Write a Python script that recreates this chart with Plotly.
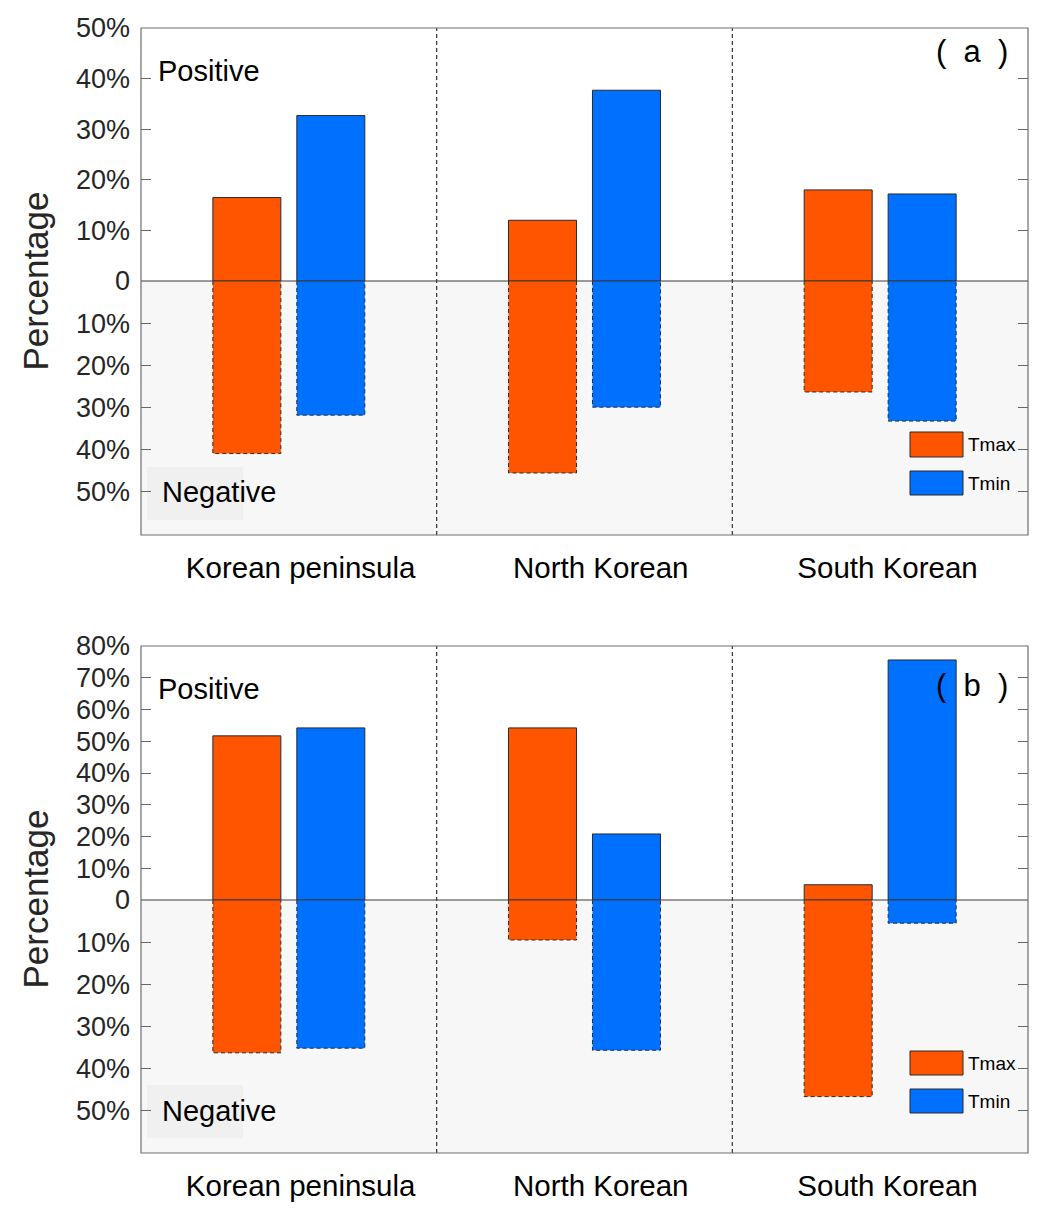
import plotly.graph_objects as go

# ---------------- data ----------------
categories = ["Korean peninsula", "North Korean", "South Korean"]
series_names = ["Tmax", "Tmin"]

# panel (a)
a_tmax_pos = [16.5, 12.0, 18.0]
a_tmin_pos = [32.7, 37.7, 17.2]
a_tmax_neg = [40.9, 45.5, 26.3]
a_tmin_neg = [31.8, 29.9, 33.2]

# panel (b)
b_tmax_pos = [51.7, 54.2, 4.8]
b_tmin_pos = [54.2, 20.8, 75.6]
b_tmax_neg = [36.3, 9.5, 46.7]
b_tmin_neg = [35.2, 35.7, 5.5]

a_pos_ticks = [0, 10, 20, 30, 40, 50]
b_pos_ticks = [0, 10, 20, 30, 40, 50, 60, 70, 80]
neg_ticks = [10, 20, 30, 40, 50]

# ---------------- style ----------------
C_MAX = "#FF5500"
C_MIN = "#0070FF"
EDGE = "#2b2b2b"
FONT = "Arial, Liberation Sans, sans-serif"
BAR_W = 0.23
OFFS = {"Tmax": -0.257, "Tmin": 0.027}
COLORS = {"Tmax": C_MAX, "Tmin": C_MIN}
LABEL_SHIFT = [0.04, 0.055, 0.025]   # category labels sit slightly right of group centres

# page body has an 8px margin on every side; size the figure so it fits the window exactly
PAGE = 8
W, H = 1057 - 2 * PAGE, 1226 - 2 * PAGE
L = 141 - PAGE
T = 28 - PAGE
R = PAGE + W - 1028
B = PAGE + H - 1153
plot_h = 1153 - 28
plot_w = 1028 - 141


def py(pix):
    return (1153 - pix) / plot_h


def px(pix):
    return (pix - 141) / plot_w


dom = {
    "y": [py(281), 1.0],
    "y2": [py(535), py(281)],
    "y3": [py(900), py(646)],
    "y4": [0.0, py(900)],
}

fig = go.Figure()
xidx = list(range(len(categories)))


def add_bars(xa, ya, name, vals, positive):
    fig.add_trace(go.Bar(
        x=xidx, y=vals, xaxis=xa, yaxis=ya, name=name,
        width=BAR_W, offset=OFFS[name],
        marker=dict(color=COLORS[name],
                    line=dict(color=EDGE, width=1 if positive else 0)),
        showlegend=False, hoverinfo="y+name",
    ))
    if not positive:
        # dashed outline for negative-part bars
        xs, ys = [], []
        for i, v in zip(xidx, vals):
            x0 = i + OFFS[name]
            x1 = x0 + BAR_W
            xs += [x0, x0, x1, x1, None]
            ys += [0, v, v, 0, None]
        fig.add_trace(go.Scatter(
            x=xs, y=ys, xaxis=xa, yaxis=ya, mode="lines",
            line=dict(color=EDGE, width=1, dash="4px,3px"),
            showlegend=False, hoverinfo="skip",
        ))


add_bars("x", "y", "Tmax", a_tmax_pos, True)
add_bars("x", "y", "Tmin", a_tmin_pos, True)
add_bars("x", "y2", "Tmax", a_tmax_neg, False)
add_bars("x", "y2", "Tmin", a_tmin_neg, False)
add_bars("x2", "y3", "Tmax", b_tmax_pos, True)
add_bars("x2", "y3", "Tmin", b_tmin_pos, True)
add_bars("x2", "y4", "Tmax", b_tmax_neg, False)
add_bars("x2", "y4", "Tmin", b_tmin_neg, False)

tickfont = dict(family=FONT, size=27, color="#262626")


def xaxis_cfg(anchor):
    return dict(domain=[0, 1], anchor=anchor, range=[-0.5, 2.5],
                tickvals=[i + s for i, s in zip(xidx, LABEL_SHIFT)],
                ticktext=categories, ticks="", automargin=False,
                showline=False, showgrid=False, zeroline=False,
                tickfont=dict(family=FONT, size=29.5, color="#000000"),
                ticklabelstandoff=12)


def yaxis_cfg(key, rng, vals, texts):
    return dict(domain=dom[key], anchor="x" if key in ("y", "y2") else "x2",
                range=rng, tickvals=vals, ticktext=texts, automargin=False,
                ticks="inside", ticklen=10, tickcolor="#666666", tickwidth=1,
                mirror="ticks", showline=False, showgrid=False, zeroline=False,
                tickfont=tickfont, ticklabelstandoff=10)


fig.update_layout(
    width=W, height=H,
    margin=dict(l=L, r=R, t=T, b=B, autoexpand=False),
    paper_bgcolor="white", plot_bgcolor="rgba(0,0,0,0)",
    barmode="overlay",
    xaxis=xaxis_cfg("y2"),
    xaxis2=xaxis_cfg("y4"),
    yaxis=yaxis_cfg("y", [0, 50], a_pos_ticks,
                    ["0" if v == 0 else f"{v}%" for v in a_pos_ticks]),
    yaxis2=yaxis_cfg("y2", [60.2, 0], neg_ticks, [f"{v}%" for v in neg_ticks]),
    yaxis3=yaxis_cfg("y3", [0, 80], b_pos_ticks,
                     ["0" if v == 0 else f"{v}%" for v in b_pos_ticks]),
    yaxis4=yaxis_cfg("y4", [60.1, 0], neg_ticks, [f"{v}%" for v in neg_ticks]),
    font=dict(family=FONT),
)

shapes = []
ann = []
panels = [
    ("x", "y", "y2", "(  a  )", 52, 71, 492, (467, 520), (432, 457), (471, 495)),
    ("x2", "y3", "y4", "(  b  )", 685, 689, 1111, (1085, 1138), (1051, 1075), (1089, 1113)),
]
for xa, yp, yn, lab, ylab, ypos, yneg, negbox, leg1, leg2 in panels:
    top = dom[yp][1]
    bot = dom[yn][0]
    zero = dom[yp][0]
    # negative-region background
    shapes.append(dict(type="rect", xref="paper", yref="paper", x0=0, x1=1,
                       y0=bot, y1=zero, fillcolor="#F7F7F7", line=dict(width=0),
                       layer="below"))
    # faint box behind "Negative"
    shapes.append(dict(type="rect", xref="paper", yref="paper",
                       x0=px(147), x1=px(243),
                       y0=py(negbox[1]), y1=py(negbox[0]),
                       fillcolor="#F0F0F0", line=dict(width=0), layer="below"))
    # dashed separators
    for xv in (0.5, 1.5):
        shapes.append(dict(type="line", xref=xa, yref="paper", x0=xv, x1=xv,
                           y0=bot, y1=top, line=dict(color="#333333", width=1.2, dash="4px,3px"),
                           layer="above"))
    # zero line
    shapes.append(dict(type="line", xref="paper", yref="paper", x0=0, x1=1,
                       y0=zero, y1=zero, line=dict(color="#3a3a3a", width=1.2),
                       layer="above"))
    # frame
    shapes.append(dict(type="rect", xref="paper", yref="paper", x0=0, x1=1,
                       y0=bot, y1=top, line=dict(color="#6e6e6e", width=1.2),
                       fillcolor="rgba(0,0,0,0)", layer="above"))
    # legend boxes
    for (y0p, y1p), nm in ((leg1, "Tmax"), (leg2, "Tmin")):
        shapes.append(dict(type="rect", xref="paper", yref="paper",
                           x0=px(910), x1=px(963),
                           y0=py(y1p), y1=py(y0p), fillcolor=COLORS[nm],
                           line=dict(color=EDGE, width=1), layer="above"))
        ann.append(dict(text=nm, xref="paper", yref="paper",
                        x=px(966), y=py((y0p + y1p) / 2),
                        xanchor="left", yanchor="middle", showarrow=False,
                        font=dict(family=FONT, size=19, color="#000000")))
    ann.append(dict(text=lab, xref="paper", yref="paper", x=px(972),
                    y=py(ylab), xanchor="center", yanchor="middle", showarrow=False,
                    font=dict(family=FONT, size=31, color="#000000")))
    ann.append(dict(text="Positive", xref="paper", yref="paper", x=px(156),
                    y=py(ypos), xanchor="left", yanchor="middle", showarrow=False,
                    font=dict(family=FONT, size=29, color="#000000")))
    ann.append(dict(text="Negative", xref="paper", yref="paper", x=px(160),
                    y=py(yneg), xanchor="left", yanchor="middle", showarrow=False,
                    font=dict(family=FONT, size=29, color="#000000")))
    ann.append(dict(text="Percentage", xref="paper", yref="paper", x=px(35),
                    y=(top + bot) / 2, xanchor="center", yanchor="middle",
                    textangle=-90, showarrow=False,
                    font=dict(family=FONT, size=35, color="#262626")))

fig.update_layout(shapes=shapes, annotations=ann)
fig.write_html("out.html")
